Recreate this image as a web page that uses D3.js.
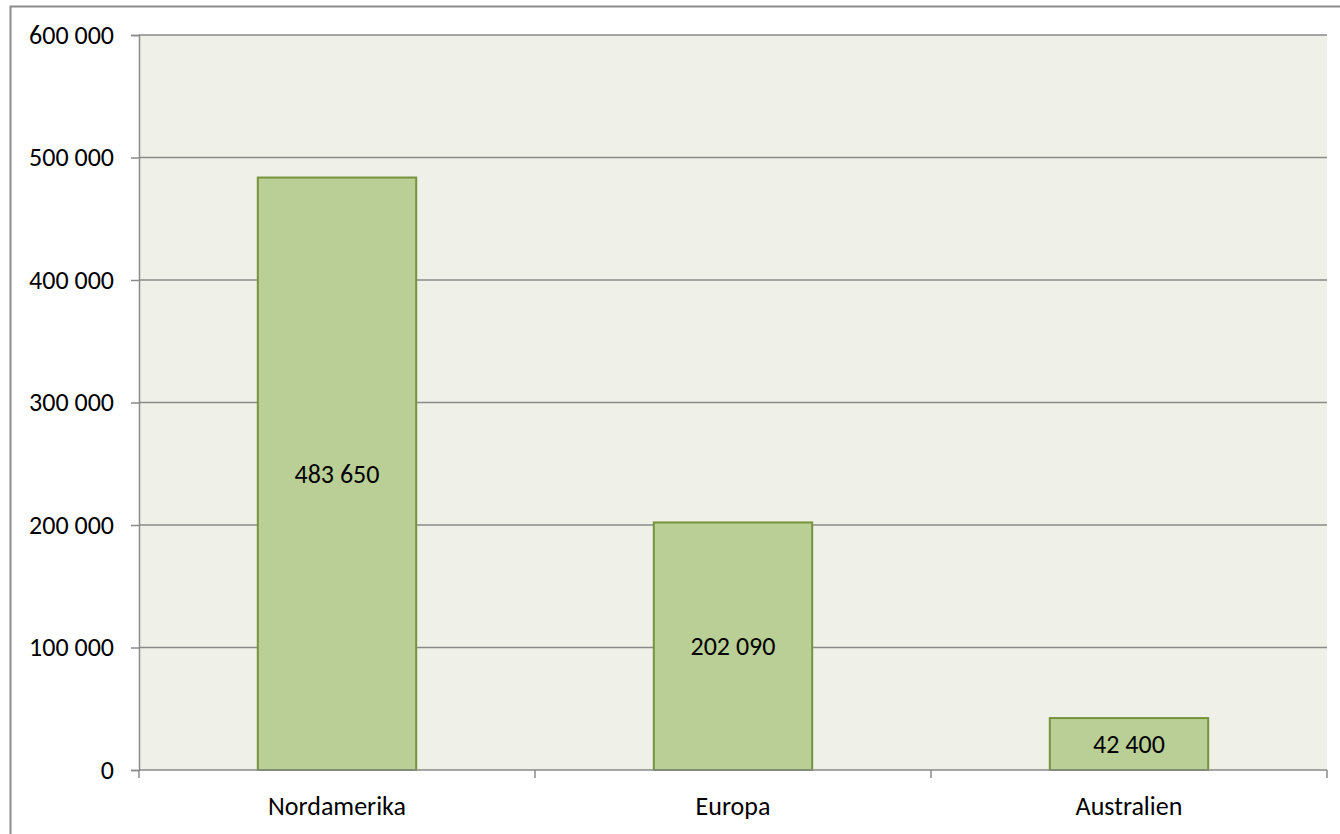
<!DOCTYPE html>
<html><head><meta charset="utf-8">
<script src="https://cdn.jsdelivr.net/npm/d3@7"></script>
<style>body{margin:0;background:#fff}svg{display:block}text{font-family:Carlito,Lato,"Open Sans",sans-serif;fill:#000}</style>
</head><body><svg id="c" width="1340" height="834"></svg>
<script>
const categories = ["Nordamerika", "Europa", "Australien"];
const values = [483650, 202090, 42400];
const yTicks = [0, 100000, 200000, 300000, 400000, 500000, 600000];

const FS = 26;
const svg = d3.select("#c");
const m = {l:139, r:1327, t:35, b:770};
const fmt = v => d3.format(",")(v).replace(/,/g, " ");

svg.append("rect").attr("x",10.5).attr("y",6.5).attr("width",1340).attr("height",840)
  .attr("fill","#fff").attr("stroke","#8c8c8c").attr("stroke-width",2);

const x = d3.scaleBand().domain(categories).range([m.l, m.r]).paddingInner(0.6).paddingOuter(0.3);
const y = d3.scaleLinear().domain([0, 600000]).range([m.b, m.t]);

svg.append("rect").attr("x",m.l).attr("y",m.t).attr("width",m.r-m.l).attr("height",m.b-m.t).attr("fill","#eff1e9");

svg.append("g").selectAll("line").data(yTicks.filter(d=>d>0)).join("line")
  .attr("x1",m.l).attr("x2",m.r).attr("y1",d=>y(d)).attr("y2",d=>y(d))
  .attr("stroke","#8a8a8a").attr("stroke-width",1.3);

svg.append("g").selectAll("rect").data(values).join("rect")
  .attr("x",(d,i)=>x(categories[i])).attr("width",x.bandwidth())
  .attr("y",d=>y(d)).attr("height",d=>y(0)-y(d))
  .attr("fill","#bacf96").attr("stroke","#77933c").attr("stroke-width",2);

svg.append("g").selectAll("text").data(values).join("text")
  .attr("x",(d,i)=>x(categories[i])+x.bandwidth()/2)
  .attr("y",d=>(y(d)+y(0))/2).attr("dy","0.35em").attr("text-anchor","middle")
  .style("font-size",FS+"px").text(d=>fmt(d));

const ya = d3.axisLeft(y).tickValues(yTicks).tickFormat(fmt).tickSize(8).tickPadding(17);
const gy = svg.append("g").attr("transform",`translate(${m.l},0)`).call(ya);
gy.select(".domain").attr("stroke","#8a8a8a").attr("stroke-width",1.5);
gy.selectAll(".tick line").attr("stroke","#8a8a8a").attr("stroke-width",1.5);
gy.selectAll("text").style("font-size",FS+"px").style("font-family","Carlito,Lato,sans-serif").attr("fill","#000");

const gx = svg.append("g").attr("transform",`translate(0,${m.b})`);
gx.append("line").attr("x1",m.l).attr("x2",m.r).attr("stroke","#8a8a8a").attr("stroke-width",1.5);
const step = (m.r-m.l)/categories.length;
gx.selectAll("line.t").data(d3.range(categories.length+1)).join("line").attr("class","t")
  .attr("x1",i=>m.l+i*step).attr("x2",i=>m.l+i*step).attr("y1",0).attr("y2",8)
  .attr("stroke","#8a8a8a").attr("stroke-width",1.5);
gx.selectAll("text").data(categories).join("text")
  .attr("x",d=>x(d)+x.bandwidth()/2).attr("y",36).attr("dy","0.35em").attr("text-anchor","middle")
  .style("font-size",FS+"px").text(d=>d);
</script></body></html>
